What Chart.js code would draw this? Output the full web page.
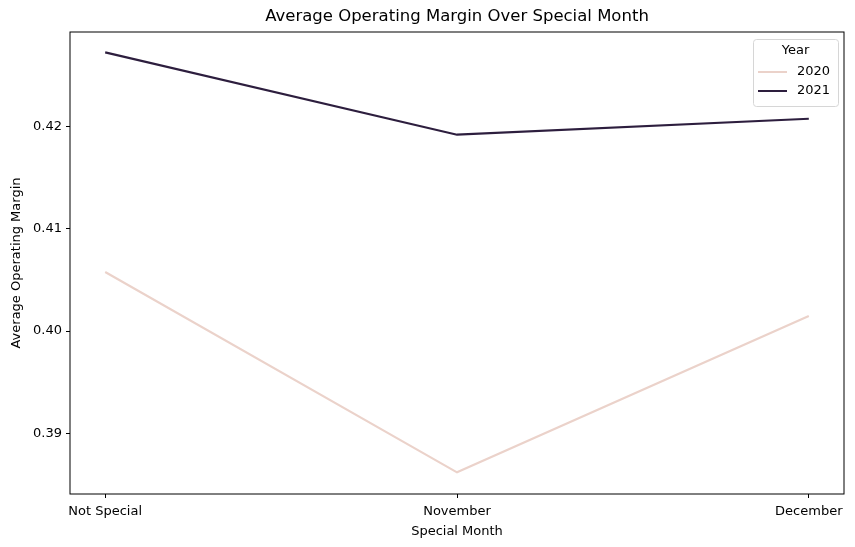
<!DOCTYPE html>
<html>
<head>
<meta charset="utf-8">
<script src="https://cdn.jsdelivr.net/npm/chart.js@4"></script>
<style>
  html, body { margin: 0; padding: 0; background: #fff; }
  #wrap { width: 855px; height: 547px; }
</style>
</head>
<body>
<div id="wrap"><canvas id="grafico"></canvas></div>
<script>
// datos
const meses = ["Not Special", "November", "December"];
const years = ["2020", "2021"];
const margen2020 = [0.40578, 0.38618, 0.40147];
const margen2021 = [0.42728, 0.41922, 0.42078];
const yTicks = [0.39, 0.40, 0.41, 0.42];
const colores = ["#ebd2ca", "#2d1e3e"];
const titulo = "Average Operating Margin Over Special Month";

const FONT = "'DejaVu Sans', sans-serif";

// marco, titulo centrado sobre el area y leyenda dentro
const marcoYLeyenda = {
  id: "marcoYLeyenda",
  afterDraw(chart) {
    const { ctx, chartArea: a } = chart;
    ctx.save();
    ctx.strokeStyle = "#000";
    ctx.lineWidth = 1;
    ctx.strokeRect(a.left, a.top, a.right - a.left, a.bottom - a.top);

    ctx.fillStyle = "#000";
    ctx.font = "16.5px " + FONT;
    ctx.textAlign = "center";
    ctx.textBaseline = "middle";
    ctx.fillText(titulo, (a.left + a.right) / 2, 17);

    // leyenda
    const x = 753, y = 39, w = 85, h = 67;
    ctx.fillStyle = "rgba(255,255,255,0.8)";
    ctx.strokeStyle = "#d6d6d6";
    ctx.beginPath();
    ctx.roundRect(x + 0.5, y + 0.5, w, h, 3);
    ctx.fill();
    ctx.stroke();
    ctx.fillStyle = "#000";
    ctx.font = "13px " + FONT;
    ctx.fillText("Year", x + w / 2, y + 12);
    ctx.textAlign = "left";
    chart.data.datasets.forEach((ds, i) => {
      const ry = y + 33 + i * 19;
      ctx.strokeStyle = ds.borderColor;
      ctx.lineWidth = 2;
      ctx.beginPath();
      ctx.moveTo(x + 5, ry);
      ctx.lineTo(x + 34, ry);
      ctx.stroke();
      ctx.fillStyle = "#000";
      ctx.fillText(ds.label, x + 44, ry);
    });
    ctx.restore();
  }
};

const ctx = document.getElementById("grafico").getContext("2d");
new Chart(ctx, {
  type: "line",
  data: {
    datasets: [
      { label: years[0], data: meses.map((m, i) => ({ x: i, y: margen2020[i] })), borderColor: colores[0], borderWidth: 2.2, pointRadius: 0, tension: 0 },
      { label: years[1], data: meses.map((m, i) => ({ x: i, y: margen2021[i] })), borderColor: colores[1], borderWidth: 2.2, pointRadius: 0, tension: 0 }
    ]
  },
  options: {
    responsive: true,
    maintainAspectRatio: false,
    animation: false,
    layout: { padding: { left: 0, right: 11, top: 32, bottom: 0 } },
    plugins: {
      legend: { display: false },
      tooltip: { enabled: false },
      title: { display: false }
    },
    scales: {
      x: {
        type: "linear",
        min: -0.1,
        max: 2.1,
        afterBuildTicks: s => { s.ticks = meses.map((m, i) => ({ value: i })); },
        afterFit: s => { s.height = 53; },
        ticks: {
          color: "#000",
          font: { family: FONT, size: 13 },
          padding: 6,
          maxRotation: 0,
          callback: v => meses[v]
        },
        grid: { display: true, drawOnChartArea: false, tickLength: 4, color: "#000" },
        border: { display: false },
        title: {
          display: true,
          text: "Special Month",
          color: "#000",
          font: { family: FONT, size: 13 },
          padding: { top: 3, bottom: 8 }
        }
      },
      y: {
        min: 0.38406,
        max: 0.42927,
        afterBuildTicks: s => { s.ticks = yTicks.map(v => ({ value: v })); },
        afterFit: s => { s.width = 70; },
        ticks: {
          color: "#000",
          font: { family: FONT, size: 13 },
          padding: 4,
          callback: v => v.toFixed(2)
        },
        grid: { display: true, drawOnChartArea: false, tickLength: 4, color: "#000" },
        border: { display: false },
        title: {
          display: true,
          text: "Average Operating Margin",
          color: "#000",
          font: { family: FONT, size: 13 },
          padding: { top: 9, bottom: 0 }
        }
      }
    }
  },
  plugins: [marcoYLeyenda]
});
</script>
</body>
</html>
